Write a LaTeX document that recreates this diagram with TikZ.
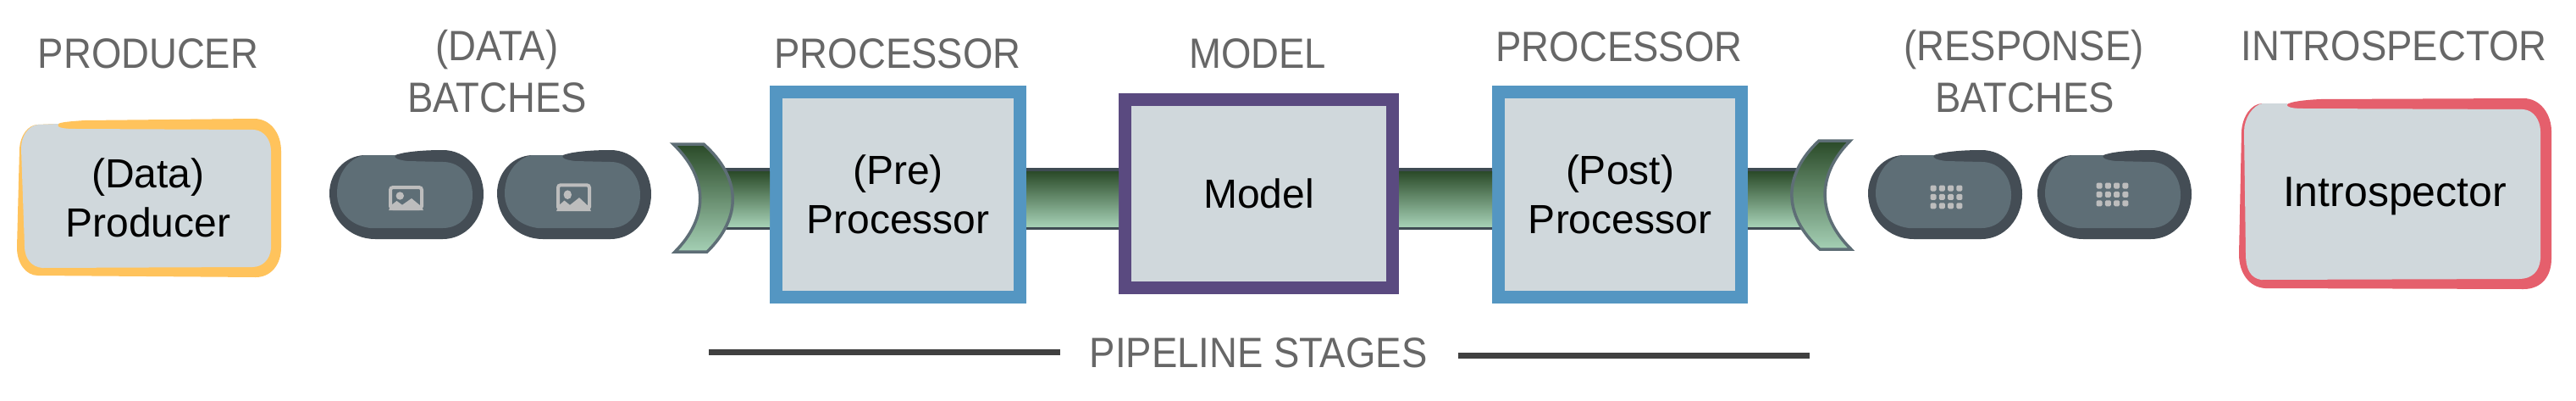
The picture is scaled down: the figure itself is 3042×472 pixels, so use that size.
\documentclass[tikz,border=0pt]{standalone}
\usepackage{fontspec}
\setmainfont{Liberation Sans}
\newfontfamily\capsfont[FakeStretch=0.91]{Liberation Sans}
\definecolor{boxfill}{HTML}{D0D8DC}
\definecolor{capgray}{HTML}{676767}
\definecolor{procblue}{HTML}{5496C2}
\definecolor{modelpurple}{HTML}{5A4A80}
\definecolor{prodorange}{HTML}{FFC35C}
\definecolor{introred}{HTML}{E55F6C}
\definecolor{pilldark}{HTML}{444D55}
\definecolor{pillfill}{HTML}{5E6E76}
\definecolor{iconlight}{HTML}{BDBDBD}
\definecolor{bardark}{HTML}{3F4C54}
\definecolor{gradtop}{HTML}{2A4A28}
\definecolor{gradmid}{HTML}{5F8565}
\definecolor{gradbot}{HTML}{A5D0B5}
\definecolor{rulegray}{HTML}{404040}
\tikzset{
  caplabel/.style={font=\capsfont\fontsize{50}{61}\selectfont,text=capgray,align=center,inner sep=0pt},
  boxtext/.style={font=\fontsize{48}{58}\selectfont,text=black,align=center,inner sep=0pt},
  stagebox/.style={draw=#1,fill=boxfill,line width=15pt,font=\fontsize{48}{58}\selectfont,text=black,align=center,inner sep=0pt},
  pipegrad/.style={shading=axis,top color=gradtop,middle color=gradmid,bottom color=gradbot},
  cresc/.style={pipegrad,draw=pillfill,line width=3.5pt,line join=miter},
  stagerule/.style={fill=rulegray}
}
\newcommand{\pipebar}[2]{%
  \fill[bardark] (#1 |- 0,198) rectangle (#2 |- 0,271);
  \path[pipegrad] (#1 |- 0,202) rectangle (#2 |- 0,267);
}
\newcommand{\batchpill}[2]{%
  \begin{scope}[shift={(#1,0)}]
    \coordinate (#2) at (91,229);
    \fill[pilldark] (78,183) .. controls (85,180) and (105,177) .. (134,177)
      .. controls (161,177) and (182,200) .. (182,229)
      .. controls (182,258) and (161,282) .. (134,282)
      -- (54,282) .. controls (24,282) and (0,258) .. (0,228)
      .. controls (0,204) and (18,184) .. (41,183) -- cycle;
    \fill[pillfill] (41,183) -- (78,183) .. controls (75,186) and (80,188.5) .. (92,190)
      -- (134,191) .. controls (155,191) and (169,208) .. (169,230)
      .. controls (169,252) and (155,269) .. (134,269)
      -- (48,269) .. controls (25,266) and (9,250) .. (9,228)
      .. controls (9,206) and (22,187) .. (41,183) -- cycle;
  \end{scope}
}
\newcommand{\imgicon}[3]{%
  \begin{scope}[shift={(#1,#2)},yscale=#3]
    \draw[iconlight,line width=4pt,rounded corners=3pt] (2,2) rectangle (39,27);
    \fill[iconlight] (13.3,12) circle (4.7);
    \fill[iconlight] (3,23) -- (9.5,18) -- (16,22.7) -- (27,15) -- (38,24) -- (41,29) -- (0,29) -- cycle;
  \end{scope}
}
\newcommand{\dotgrid}[2]{%
  \foreach \i in {0,1,2,3}{\foreach \j in {0,1,2}{
    \fill[iconlight,rounded corners=1.5pt] ({#1+\i*10.3-3.5},{#2+\j*10.4-3.5}) rectangle ++(7,7);
  }}
}
\begin{document}
\begin{tikzpicture}[x=1pt,y=-1pt]
\useasboundingbox (0,0) rectangle (3042,472);
\fill[white] (0,0) rectangle (3042,472);

% captions
\node[caplabel,anchor=base] (capprod) at (175,80) {PRODUCER};
\node[caplabel,anchor=base] (capdata1) at (587,71) {(DATA)};
\node[caplabel,anchor=base] (capdata2) at (587,132) {BATCHES};
\node[caplabel,anchor=base] (cappre) at (1060,80) {PROCESSOR};
\node[caplabel,anchor=base] (capmodel) at (1485,80) {MODEL};
\node[caplabel,anchor=base] (cappost) at (1912,72) {PROCESSOR};
\node[caplabel,anchor=base] (capresp1) at (2390,71) {(RESPONSE)};
\node[caplabel,anchor=base] (capresp2) at (2391,132) {BATCHES};
\node[caplabel,anchor=base] (capintro) at (2827,71) {INTROSPECTOR};

% producer
\fill[prodorange] (69,146) .. controls (72,144) and (85,143) .. (100,142) -- (300,140)
  .. controls (320,140) and (332,158) .. (332,178) -- (332,292)
  .. controls (332,312) and (320,327) .. (302,327) -- (45,325)
  .. controls (30,325) and (20,310) .. (20,292) -- (23,175)
  .. controls (24,160) and (33,147) .. (45,147) -- cycle;
\fill[boxfill] (45,147) -- (69,146) .. controls (66,150) and (72,152) .. (90,152) -- (300,153)
  .. controls (312,154) and (320,165) .. (320,178) -- (320,293)
  .. controls (319,306) and (310,315) .. (298,315) -- (50,316)
  .. controls (38,315) and (29,306) .. (29,290) -- (25,175)
  .. controls (25,160) and (34,148) .. (45,147) -- cycle;
\node[boxtext] (producer) at (175,233) {(Data)\\Producer};

% introspector
\fill[introred] (2701,123) .. controls (2705,120) and (2720,118) .. (2740,117) -- (2980,116)
  .. controls (3000,116) and (3013,135) .. (3013,155) -- (3013,305)
  .. controls (3013,325) and (3002,341) .. (2980,341) -- (2675,340)
  .. controls (2656,339) and (2644,322) .. (2644,300) -- (2647,155)
  .. controls (2648,138) and (2658,122) .. (2672,122) -- cycle;
\fill[boxfill] (2672,122) -- (2701,122) .. controls (2699,126) and (2705,128) .. (2720,128) -- (2980,129)
  .. controls (2992,130) and (3000,142) .. (3000,155) -- (3000,305)
  .. controls (2999,320) and (2990,329) .. (2975,329) -- (2670,330)
  .. controls (2658,328) and (2652,318) .. (2652,300) -- (2650,155)
  .. controls (2650,140) and (2660,124) .. (2672,122) -- cycle;
\node[boxtext,font=\fontsize{50}{58}\selectfont] (introspector) at (2828,231) {Introspector};

% pipeline stage boxes
\node[stagebox=procblue,minimum width=288pt,minimum height=242pt] (pre) at (1060.5,229.5) {(Pre)\\Processor};
\node[stagebox=modelpurple,minimum width=316pt,minimum height=222pt] (model) at (1486.5,228.5) {Model};
\node[stagebox=procblue,minimum width=287pt,minimum height=242pt] (post) at (1913,229.5) {(Post)\\Processor};

% pipe
\coordinate (pipein) at (850,235);
\coordinate (pipeout) at (2128,235);
\pipebar{pipein}{pre.west}
\pipebar{pre.east}{model.west}
\pipebar{model.east}{post.west}
\pipebar{post.east}{pipeout}

% crescents
\path[cresc] (795,170) -- (831,170) .. controls (876,210) and (876,257) .. (835,297)
  -- (797,297) .. controls (837,257) and (837,210) .. (795,170) -- cycle;
\path[cresc] (2185,166) -- (2148,166) .. controls (2105,206) and (2105,254) .. (2149,294)
  -- (2186,294) .. controls (2145,254) and (2145,206) .. (2185,166) -- cycle;

% batches
\batchpill{389}{dataA}
\batchpill{587}{dataB}
\batchpill{2206}{respA}
\batchpill{2406}{respB}
\imgicon{459}{219}{1}
\imgicon{657}{216}{1.14}
\dotgrid{2283}{222}
\dotgrid{2479}{219}

% pipeline stages
\node[caplabel,anchor=base] (stages) at (1486,433) {PIPELINE STAGES};
\coordinate (ruleA) at (837,412);
\coordinate (ruleB) at (1252,419);
\coordinate (ruleC) at (1722,416);
\coordinate (ruleD) at (2137,423);
\fill[stagerule] (ruleA) rectangle (ruleB);
\fill[stagerule] (ruleC) rectangle (ruleD);
\end{tikzpicture}
\end{document}
